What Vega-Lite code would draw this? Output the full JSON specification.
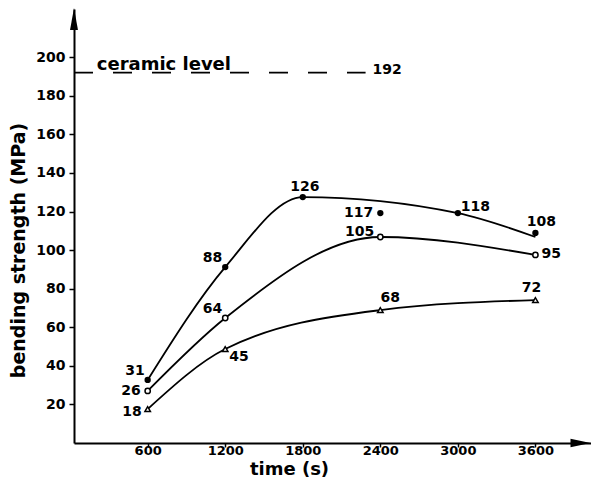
{
  "$schema": "https://vega.github.io/schema/vega-lite/v6.json",
  "autosize": {"type": "none"},
  "width": 517,
  "height": 434,
  "padding": {"left": 74, "top": 9, "right": 0, "bottom": 38},
  "background": "white",
  "config": {
    "view": {"stroke": null},
    "font": "DejaVu Sans",
    "axis": {"grid": false, "domainColor": "black", "domainWidth": 2, "tickColor": "black", "tickWidth": 1.5, "labelColor": "black", "titleColor": "black", "labelFont": "DejaVu Sans", "titleFont": "DejaVu Sans", "labelFontWeight": "bold", "labelFontSize": 14, "titleFontSize": 18, "titleFontWeight": "bold"}
  },
  "datasets": {
    "curves": [
      {"series": "A", "time": 600, "strength": 32.7},
      {"series": "A", "time": 1200, "strength": 91.2},
      {"series": "A", "time": 1800, "strength": 127.5},
      {"series": "A", "time": 3000, "strength": 119.2},
      {"series": "A", "time": 3600, "strength": 106.8},
      {"series": "B", "time": 600, "strength": 27},
      {"series": "B", "time": 1200, "strength": 64.8},
      {"series": "B", "time": 2400, "strength": 106.8},
      {"series": "B", "time": 3600, "strength": 97.5},
      {"series": "C", "time": 600, "strength": 17.6},
      {"series": "C", "time": 1200, "strength": 48.7},
      {"series": "C", "time": 2400, "strength": 68.9},
      {"series": "C", "time": 3600, "strength": 74.1}
    ],
    "points": [
      {"series": "A", "time": 600, "strength": 32.7, "label": "31"},
      {"series": "A", "time": 1200, "strength": 91.2, "label": "88"},
      {"series": "A", "time": 1800, "strength": 127.5, "label": "126"},
      {"series": "A", "time": 2400, "strength": 119.2, "label": "117"},
      {"series": "A", "time": 3000, "strength": 119.2, "label": "118"},
      {"series": "A", "time": 3600, "strength": 108.9, "label": "108"},
      {"series": "B", "time": 600, "strength": 27, "label": "26"},
      {"series": "B", "time": 1200, "strength": 64.8, "label": "64"},
      {"series": "B", "time": 2400, "strength": 106.8, "label": "105"},
      {"series": "B", "time": 3600, "strength": 97.5, "label": "95"},
      {"series": "C", "time": 600, "strength": 17.6, "label": "18"},
      {"series": "C", "time": 1200, "strength": 48.7, "label": "45"},
      {"series": "C", "time": 2400, "strength": 68.9, "label": "68"},
      {"series": "C", "time": 3600, "strength": 74.1, "label": "72"}
    ],
    "ceramic": [
      {"start": 30, "end": 2286, "level": 192, "text": "ceramic level", "textAt": 206, "valueText": "192", "valueAt": 2340}
    ],
    "arrows": [
      {"axis": "y", "time": 30, "strength": 219.8},
      {"axis": "x", "time": 3949, "strength": 0}
    ]
  },
  "encoding": {
    "x": {"field": "time", "type": "quantitative", "scale": {"domain": [30, 4030], "nice": false, "zero": false},
      "axis": {"values": [600, 1200, 1800, 2400, 3000, 3600], "format": "d", "title": "time (s)", "tickSize": 4, "labelPadding": -3, "labelBaseline": "top", "labelFontSize": 13, "titleX": 215, "titleY": 26, "titleBaseline": "middle", "titleAnchor": null}},
    "y": {"field": "strength", "type": "quantitative", "scale": {"domain": [0, 225], "nice": false},
      "axis": {"values": [20, 40, 60, 80, 100, 120, 140, 160, 180, 200], "title": "bending strength (MPa)", "tickSize": 5, "labelPadding": 4, "titleFontSize": 19, "titleX": -56, "titleY": 241, "titleAngle": -90, "titleBaseline": "middle", "titleAlign": "center"}}
  },
  "layer": [
    {"data": {"name": "curves"}, "mark": {"type": "line", "interpolate": "monotone", "color": "black", "strokeWidth": 1.8}, "encoding": {"detail": {"field": "series"}}},
    {"data": {"name": "points"}, "transform": [{"filter": "datum.series == 'A'"}], "mark": {"type": "point", "shape": "circle", "filled": true, "color": "black", "size": 40, "opacity": 1}},
    {"data": {"name": "points"}, "transform": [{"filter": "datum.series == 'B'"}], "mark": {"type": "point", "shape": "circle", "filled": true, "fill": "white", "stroke": "black", "strokeWidth": 1.5, "size": 28, "opacity": 1}},
    {"data": {"name": "points"}, "transform": [{"filter": "datum.series == 'C'"}], "mark": {"type": "point", "shape": "triangle-up", "filled": true, "fill": "white", "stroke": "black", "strokeWidth": 1.5, "size": 30, "opacity": 1}},
    {"data": {"name": "ceramic"}, "mark": {"type": "rule", "color": "black", "strokeWidth": 1.8, "strokeDash": [19, 20]},
      "encoding": {"x": {"field": "start", "type": "quantitative"}, "x2": {"field": "end"}, "y": {"field": "level", "type": "quantitative"}}},
    {"data": {"name": "ceramic"}, "mark": {"type": "text", "align": "left", "baseline": "alphabetic", "dy": -3, "fontSize": 18, "fontWeight": "bold", "color": "black"},
      "encoding": {"x": {"field": "textAt", "type": "quantitative"}, "y": {"field": "level", "type": "quantitative"}, "text": {"field": "text"}}},
    {"data": {"name": "ceramic"}, "mark": {"type": "text", "align": "left", "baseline": "middle", "dy": -3, "fontSize": 14, "fontWeight": "bold", "color": "black"},
      "encoding": {"x": {"field": "valueAt", "type": "quantitative"}, "y": {"field": "level", "type": "quantitative"}, "text": {"field": "valueText"}}},
    {"data": {"name": "arrows"}, "transform": [{"filter": "datum.axis == 'y'"}], "mark": {"type": "point", "shape": "M0,-1L0.36,1L-0.36,1Z", "filled": true, "color": "black", "size": 484, "opacity": 1, "strokeWidth": 0}},
    {"data": {"name": "arrows"}, "transform": [{"filter": "datum.axis == 'x'"}], "mark": {"type": "point", "shape": "M1,0L-1,0.42L-1,-0.42Z", "filled": true, "color": "black", "size": 400, "opacity": 1, "strokeWidth": 0}},
    {"data": {"name": "points"}, "transform": [{"filter": {"field": "label", "oneOf": ["31", "88", "64"]}}], "mark": {"type": "text", "align": "right", "baseline": "middle", "dx": -3, "dy": -9, "fontSize": 14, "fontWeight": "bold", "color": "black"}, "encoding": {"text": {"field": "label"}}},
    {"data": {"name": "points"}, "transform": [{"filter": {"field": "label", "oneOf": ["105"]}}], "mark": {"type": "text", "align": "right", "baseline": "middle", "dx": -6, "dy": -5, "fontSize": 14, "fontWeight": "bold", "color": "black"}, "encoding": {"text": {"field": "label"}}},
    {"data": {"name": "points"}, "transform": [{"filter": {"field": "label", "oneOf": ["117", "26"]}}], "mark": {"type": "text", "align": "right", "baseline": "middle", "dx": -7, "dy": 0, "fontSize": 14, "fontWeight": "bold", "color": "black"}, "encoding": {"text": {"field": "label"}}},
    {"data": {"name": "points"}, "transform": [{"filter": {"field": "label", "oneOf": ["18"]}}], "mark": {"type": "text", "align": "right", "baseline": "middle", "dx": -6, "dy": 3, "fontSize": 14, "fontWeight": "bold", "color": "black"}, "encoding": {"text": {"field": "label"}}},
    {"data": {"name": "points"}, "transform": [{"filter": {"field": "label", "oneOf": ["126"]}}], "mark": {"type": "text", "align": "center", "baseline": "middle", "dx": 2, "dy": -10, "fontSize": 14, "fontWeight": "bold", "color": "black"}, "encoding": {"text": {"field": "label"}}},
    {"data": {"name": "points"}, "transform": [{"filter": {"field": "label", "oneOf": ["108"]}}], "mark": {"type": "text", "align": "center", "baseline": "middle", "dx": 6, "dy": -11, "fontSize": 14, "fontWeight": "bold", "color": "black"}, "encoding": {"text": {"field": "label"}}},
    {"data": {"name": "points"}, "transform": [{"filter": {"field": "label", "oneOf": ["68"]}}], "mark": {"type": "text", "align": "center", "baseline": "middle", "dx": 10, "dy": -12, "fontSize": 14, "fontWeight": "bold", "color": "black"}, "encoding": {"text": {"field": "label"}}},
    {"data": {"name": "points"}, "transform": [{"filter": {"field": "label", "oneOf": ["72"]}}], "mark": {"type": "text", "align": "center", "baseline": "middle", "dx": -4, "dy": -12, "fontSize": 14, "fontWeight": "bold", "color": "black"}, "encoding": {"text": {"field": "label"}}},
    {"data": {"name": "points"}, "transform": [{"filter": {"field": "label", "oneOf": ["118"]}}], "mark": {"type": "text", "align": "left", "baseline": "middle", "dx": 3, "dy": -6, "fontSize": 14, "fontWeight": "bold", "color": "black"}, "encoding": {"text": {"field": "label"}}},
    {"data": {"name": "points"}, "transform": [{"filter": {"field": "label", "oneOf": ["95"]}}], "mark": {"type": "text", "align": "left", "baseline": "middle", "dx": 6, "dy": -1, "fontSize": 14, "fontWeight": "bold", "color": "black"}, "encoding": {"text": {"field": "label"}}},
    {"data": {"name": "points"}, "transform": [{"filter": {"field": "label", "oneOf": ["45"]}}], "mark": {"type": "text", "align": "left", "baseline": "middle", "dx": 4, "dy": 8, "fontSize": 14, "fontWeight": "bold", "color": "black"}, "encoding": {"text": {"field": "label"}}}
  ]
}
